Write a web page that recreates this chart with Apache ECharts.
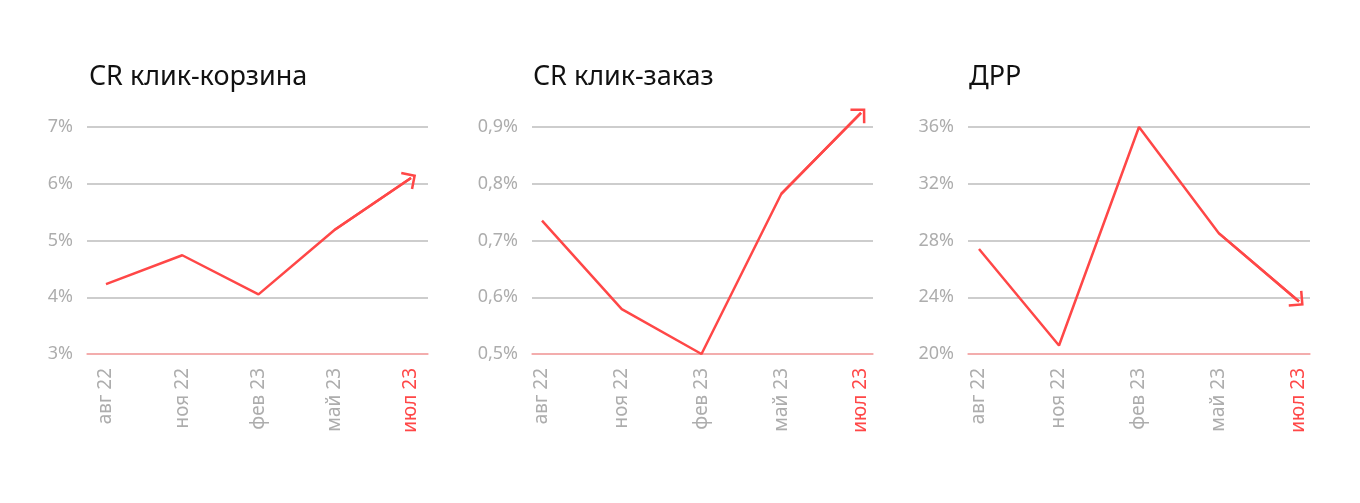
<!DOCTYPE html>
<html>
<head>
<meta charset="utf-8">
<script src="https://cdn.jsdelivr.net/npm/echarts@6/dist/echarts.min.js"></script>
<style>
  html, body { margin: 0; padding: 0; background: #fff; }
  #chart { width: 1360px; height: 503px; }
</style>
</head>
<body>
<div id="chart"></div>
<script>
  // данные
  const categories = ['авг 22', 'ноя 22', 'фев 23', 'май 23', 'июл 23'];
  const titles = ['CR клик-корзина', 'CR клик-заказ', 'ДРР'];
  const cartValues = [4.23, 4.74, 4.05, 5.19, 6.1];
  const orderValues = [0.735, 0.579, 0.5, 0.782, 0.925];
  const drrValues = [27.4, 20.6, 36.0, 28.5, 23.7];
  const cartTicks = [3, 7, 1];      // min, max, interval
  const orderTicks = [0.5, 0.9, 0.1];
  const drrTicks = [20, 36, 4];

  const red = '#ff4747';
  const gray = '#adadad';
  const fontFamily = '"Noto Sans", "Open Sans", sans-serif';

  // позиции панелей: линии сетки и крайние точки данных
  const panels = [
    { values: cartValues, ticks: cartTicks, gridL: 87, gridR: 428, dataL: 106, dataR: 411, titleX: 84, fmt: v => v + '%' },
    { values: orderValues, ticks: orderTicks, gridL: 532, gridR: 873, dataL: 542, dataR: 861, titleX: 528, fmt: v => String(+v.toFixed(1)).replace('.', ',') + '%' },
    { values: drrValues, ticks: drrTicks, gridL: 968, gridR: 1310, dataL: 979, dataR: 1299, titleX: 964, fmt: v => v + '%' }
  ];

  const W = 1360, H = 503, TOP = 127, BOTTOM = 354;
  const STEP = (BOTTOM - TOP) / 4;
  // наконечник стрелки (галочка под прямым углом)
  const arrowPath = 'path://M10,0 L20,10 L18.3,11.7 L10,3.4 L1.7,11.7 L0,10 Z';

  const option = { animation: false, title: [], grid: [], xAxis: [], yAxis: [], series: [] };

  panels.forEach(function (p, i) {
    option.title.push({
      text: titles[i],
      left: p.titleX,
      top: 59,
      textStyle: { color: '#111', fontSize: 27, fontWeight: 'normal', fontFamily: fontFamily }
    });

    // сетка с подписями оси Y
    option.grid.push({ left: p.gridL, right: W - p.gridR, top: TOP, bottom: H - BOTTOM });
    // сетка для линии (на один шаг выше, чтобы стрелка не обрезалась)
    option.grid.push({ left: p.dataL, right: W - p.dataR, top: TOP - STEP, bottom: H - BOTTOM });

    const gA = i * 2, gB = i * 2 + 1;

    option.xAxis.push({
      type: 'category', gridIndex: gA, data: categories,
      axisLine: { show: true, lineStyle: { color: '#ffa3a3', width: 1.5 } },
      axisTick: { show: false }, axisLabel: { show: false }, splitLine: { show: false }
    });
    option.xAxis.push({
      type: 'category', gridIndex: gB, data: categories, boundaryGap: false,
      axisLine: { show: false }, axisTick: { show: false },
      axisLabel: {
        rotate: 90, margin: 14, fontSize: 19, fontFamily: fontFamily,
        color: function (value, index) { return index === categories.length - 1 ? red : gray; }
      }
    });

    option.yAxis.push({
      type: 'value', gridIndex: gA, min: p.ticks[0], max: p.ticks[1], interval: p.ticks[2],
      axisLine: { show: false }, axisTick: { show: false },
      axisLabel: { margin: 14, fontSize: 18, color: gray, fontFamily: fontFamily, formatter: p.fmt },
      splitLine: { lineStyle: { color: '#bdbdbd', width: 1.5 } }
    });
    option.yAxis.push({
      type: 'value', gridIndex: gB, min: p.ticks[0], max: p.ticks[1] + p.ticks[2], interval: p.ticks[2],
      show: false, splitLine: { show: false }
    });

    const n = p.values.length;
    option.series.push({
      type: 'line', xAxisIndex: gB, yAxisIndex: gB,
      data: p.values, symbol: 'none', silent: true,
      lineStyle: { color: red, width: 2.5 },
      markLine: {
        silent: true, animation: false,
        symbol: ['none', arrowPath], symbolSize: [21, 12.3],
        label: { show: false },
        lineStyle: { color: red, width: 2.5, type: 'solid' },
        data: [[
          { coord: [categories[n - 2], p.values[n - 2]] },
          { coord: [categories[n - 1], p.values[n - 1]] }
        ]]
      }
    });
  });

  const myChart = echarts.init(document.getElementById('chart'));
  myChart.setOption(option);
</script>
</body>
</html>
